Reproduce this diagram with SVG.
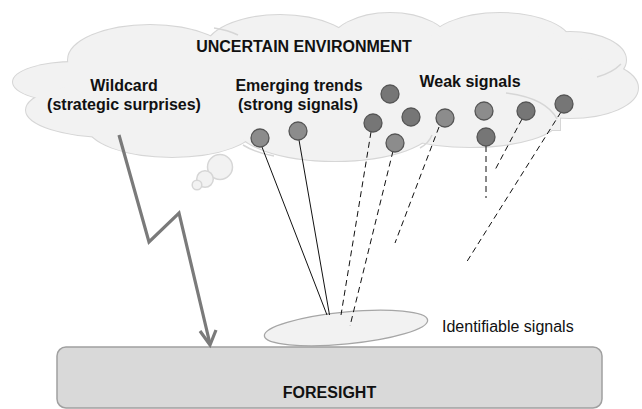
<svg xmlns="http://www.w3.org/2000/svg" width="642" height="409" viewBox="0 0 642 409">
  <defs>
    <style>
      text { font-family: "Liberation Sans", Arial, sans-serif; font-size: 16px; fill: #111; }
      .b { font-weight: bold; }
      .lobe-line { fill: none; stroke: #d6d6d6; stroke-width: 2; }
      .lobe-fill { fill: #f2f2f2; stroke: none; }
      .inner { fill: none; stroke: #d6d6d6; stroke-width: 1.5; }
      .sig { stroke: #555; stroke-width: 1.3; }
      .sig.dark { fill: #767676; }
      .sig.light { fill: #8c8c8c; }
      .bubble { fill: #f2f2f2; stroke: #d6d6d6; stroke-width: 1.5; }
      .solid { stroke: #111; stroke-width: 1; fill: none; }
      .dash { stroke: #111; stroke-width: 1; fill: none; stroke-dasharray: 6 4; }
      .bolt { stroke: #7a7a7a; stroke-width: 3.2; fill: none; stroke-linejoin: miter; }
    </style>
    <g id="lobes">
      <ellipse cx="75" cy="82" rx="62" ry="20"/>
      <ellipse cx="110" cy="110" rx="84" ry="27"/>
      <ellipse cx="172" cy="125" rx="85" ry="32"/>
      <ellipse cx="150" cy="60" rx="82" ry="35"/>
      <ellipse cx="280" cy="50" rx="75" ry="35"/>
      <ellipse cx="390" cy="45" rx="60" ry="32"/>
      <ellipse cx="500" cy="45" rx="72" ry="32"/>
      <ellipse cx="570" cy="60" rx="56" ry="28"/>
      <ellipse cx="570" cy="88" rx="68" ry="30"/>
      <ellipse cx="470" cy="120" rx="88" ry="27"/>
      <ellipse cx="335" cy="125" rx="100" ry="36"/>
      <rect x="120" y="50" width="440" height="80"/>
    </g>
  </defs>

  <!-- cloud: uncertain environment -->
  <g id="environment">
    <use href="#lobes" class="lobe-line"/>
    <use href="#lobes" class="lobe-fill"/>
    <path class="inner" d="M 214 28 Q 228 30 238 35"/>
    <path class="inner" d="M 621 64 Q 612 73 597 77"/>
    <path class="inner" d="M 506 93 Q 546 98 557 119"/>
    <path class="inner" d="M 243 145 Q 256 153 274 156"/>
    <path class="inner" d="M 432 135 Q 429 143 420 148"/>
    <text class="b" x="304" y="52" text-anchor="middle">UNCERTAIN ENVIRONMENT</text>
  </g>

  <!-- thought bubbles under the cloud -->
  <g id="bubbles">
    <circle class="bubble" cx="220" cy="167" r="12.5"/>
    <circle class="bubble" cx="205" cy="179" r="8.3"/>
    <circle class="bubble" cx="197" cy="185" r="4.8"/>
  </g>

  <g id="wildcard">
    <text class="b" x="124" y="91" text-anchor="middle">Wildcard</text>
    <text class="b" x="124" y="110" text-anchor="middle">(strategic surprises)</text>
  </g>

  <g id="emerging-trends">
    <text class="b" x="299" y="91" text-anchor="middle">Emerging trends</text>
    <text class="b" x="298" y="110" text-anchor="middle">(strong signals)</text>
  </g>

  <g id="weak-signals">
    <text class="b" x="470" y="87" text-anchor="middle">Weak signals</text>
  </g>

  <!-- identifiable signals -->
  <g id="identifiable">
    <ellipse cx="346" cy="328" rx="82" ry="16" transform="rotate(-5.5 346 328)" fill="#f2f2f2" stroke="#a6a6a6" stroke-width="1.3"/>
    <text x="442" y="332">Identifiable signals</text>
  </g>

  <!-- foresight base -->
  <g id="foresight">
    <rect x="57" y="347" width="545" height="61" rx="9" fill="#d9d9d9" stroke="#a0a0a0" stroke-width="1.5"/>
    <text class="b" x="329.5" y="398" text-anchor="middle">FORESIGHT</text>
  </g>

  <!-- connectors -->
  <g id="connectors">
    <line class="solid" x1="262" y1="147" x2="327" y2="315"/>
    <line class="solid" x1="299" y1="140" x2="329.5" y2="315"/>
    <line class="dash" x1="371" y1="132" x2="341" y2="315"/>
    <line class="dash" x1="393" y1="151" x2="350" y2="326"/>
    <line class="dash" x1="439" y1="127" x2="395" y2="243"/>
    <line class="dash" x1="486" y1="146" x2="486" y2="198"/>
    <line class="dash" x1="522" y1="119" x2="495" y2="170"/>
    <line class="dash" x1="561" y1="112" x2="466" y2="263"/>
    <polyline class="bolt" points="119,135 149,242 179,213 210,344"/>
    <polyline class="bolt" points="200,331 210,345 216,330"/>
  </g>

  <!-- signals -->
  <g id="signals">
    <circle class="sig light" cx="260" cy="138" r="9"/>
    <circle class="sig light" cx="298" cy="131" r="9"/>
    <circle class="sig dark" cx="373" cy="123" r="9"/>
    <circle class="sig dark" cx="390" cy="94" r="9"/>
    <circle class="sig dark" cx="411" cy="117" r="9"/>
    <circle class="sig light" cx="395" cy="143" r="9"/>
    <circle class="sig light" cx="445" cy="118" r="9"/>
    <circle class="sig light" cx="484" cy="111" r="9"/>
    <circle class="sig dark" cx="486" cy="137" r="9"/>
    <circle class="sig dark" cx="526" cy="111" r="9"/>
    <circle class="sig dark" cx="564" cy="104" r="9"/>
  </g>
</svg>
